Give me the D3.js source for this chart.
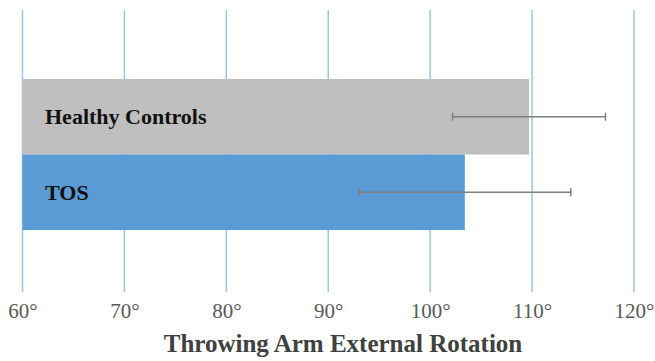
<!DOCTYPE html>
<html lang="en">
<head>
  <meta charset="UTF-8">
  <title>Throwing Arm External Rotation</title>
  <script src="https://cdn.jsdelivr.net/npm/d3@7"></script>
  <style>
    html, body { margin: 0; padding: 0; background: #fff; }
    text { font-family: "Liberation Serif", "Times New Roman", serif; }
  </style>
</head>
<body>
  <svg id="chart"></svg>
<script>
  // data
  const groups = ['Healthy Controls', 'TOS'];
  const means = [109.7, 103.4];
  const errLow = [102.2, 93.0];
  const errHigh = [117.2, 113.8];
  const tickValues = [60, 70, 80, 90, 100, 110, 120];
  const barColors = ['#bfbfbf', '#5b9bd5'];

  const width = 655, height = 361;
  const gridTop = 10, gridBottom = 292;

  const svg = d3.select('#chart')
    .attr('width', width)
    .attr('height', height);

  const x = d3.scaleLinear().domain([60, 120]).range([22.5, 634]);
  const y = d3.scaleBand().domain(groups).range([79, 230]).padding(0);

  // vertical gridlines
  svg.append('g')
    .selectAll('line')
    .data(tickValues)
    .join('line')
    .attr('x1', d => x(d))
    .attr('x2', d => x(d))
    .attr('y1', gridTop)
    .attr('y2', gridBottom)
    .attr('stroke', '#9dc3e6')
    .attr('stroke-width', 1.5);

  // bars
  svg.append('g')
    .selectAll('rect')
    .data(groups)
    .join('rect')
    .attr('x', x(60))
    .attr('y', d => y(d))
    .attr('width', (d, i) => x(means[i]) - x(60))
    .attr('height', y.bandwidth())
    .attr('fill', (d, i) => barColors[i]);

  // error bars
  const err = svg.append('g')
    .attr('stroke', '#7f7f7f')
    .attr('stroke-width', 1.5)
    .selectAll('g')
    .data(groups)
    .join('g')
    .attr('transform', d => `translate(0,${y(d) + y.bandwidth() / 2})`);
  err.append('line')
    .attr('x1', (d, i) => x(errLow[i]))
    .attr('x2', (d, i) => x(errHigh[i]));
  err.append('line')
    .attr('x1', (d, i) => x(errLow[i]))
    .attr('x2', (d, i) => x(errLow[i]))
    .attr('y1', -4).attr('y2', 4);
  err.append('line')
    .attr('x1', (d, i) => x(errHigh[i]))
    .attr('x2', (d, i) => x(errHigh[i]))
    .attr('y1', -4).attr('y2', 4);

  // category labels inside bars
  svg.append('g')
    .selectAll('text')
    .data(groups)
    .join('text')
    .attr('x', 45)
    .attr('y', d => y(d) + y.bandwidth() / 2 + 7.5)
    .attr('font-size', 22)
    .attr('font-weight', 'bold')
    .attr('fill', '#111')
    .text(d => d);

  // x axis labels
  const xAxis = d3.axisBottom(x)
    .tickValues(tickValues)
    .tickSize(0)
    .tickPadding(0)
    .tickFormat(d => d + '°');
  const axisG = svg.append('g')
    .attr('transform', `translate(0,${gridBottom})`)
    .call(xAxis);
  axisG.select('.domain').remove();
  axisG.attr('font-family', null);
  axisG.selectAll('text')
    .attr('dy', null)
    .attr('y', 26)
    .attr('font-size', 21)
    .attr('fill', '#595959');

  // axis title
  svg.append('text')
    .attr('x', 343)
    .attr('y', 352)
    .attr('text-anchor', 'middle')
    .attr('font-size', 25)
    .attr('font-weight', 'bold')
    .attr('fill', '#404040')
    .text('Throwing Arm External Rotation');
</script>
</body>
</html>
